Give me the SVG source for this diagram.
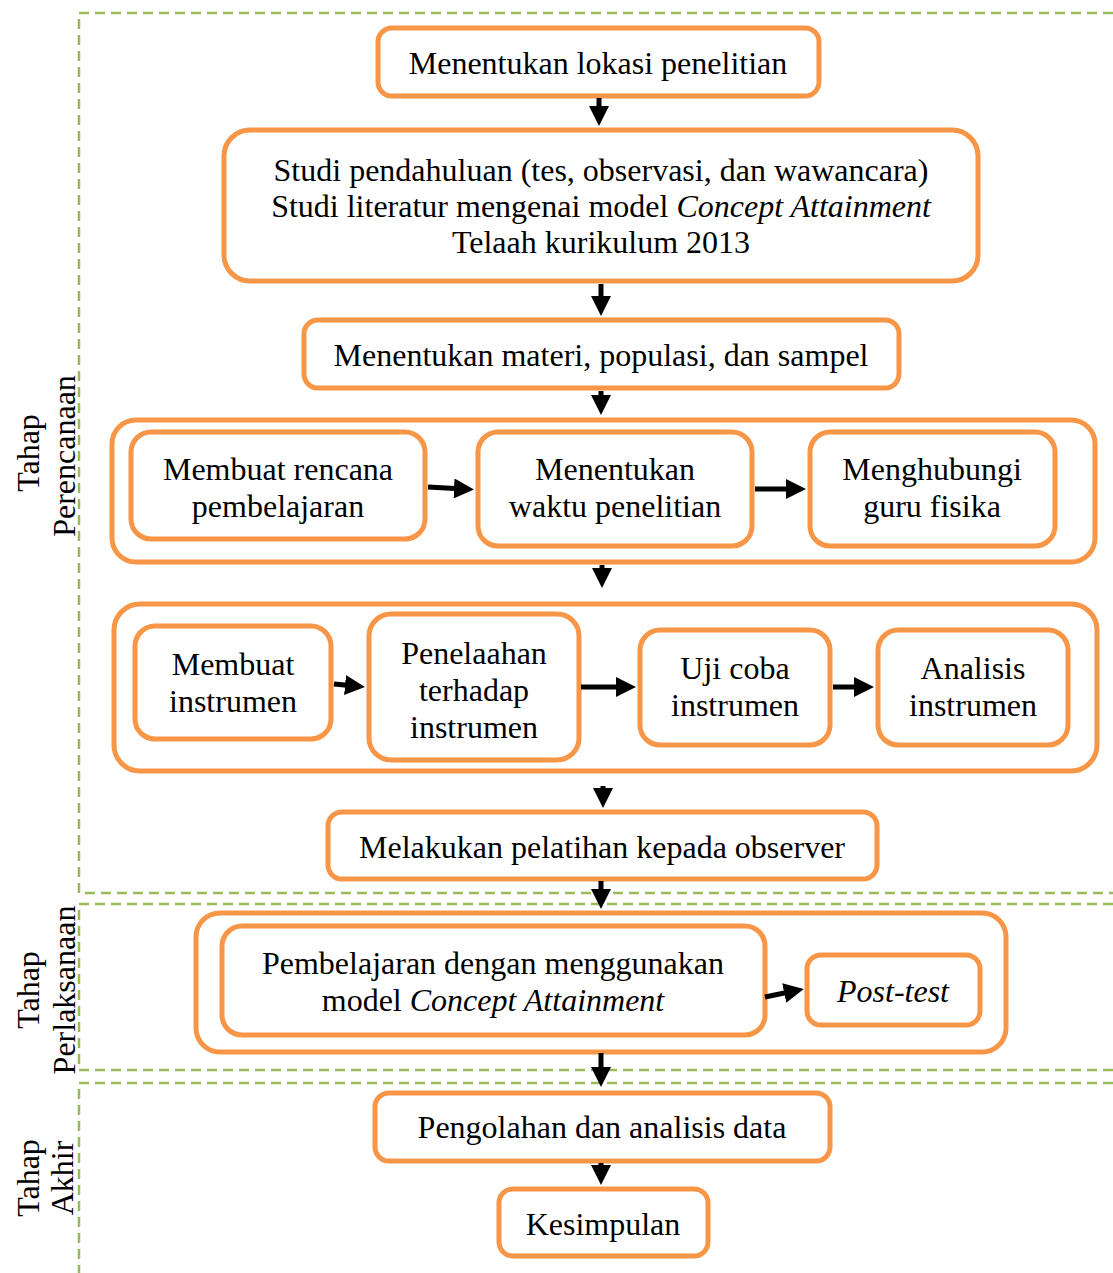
<svg xmlns="http://www.w3.org/2000/svg" width="1113" height="1273" viewBox="0 0 1113 1273">
<style>
.b{fill:#fff;stroke:#F79646;stroke-width:5}
.g{fill:none;stroke:#F79646;stroke-width:5}
.t{font-family:"Liberation Serif","Times New Roman",serif;font-size:32px;fill:#000;text-anchor:middle}
.d{fill:none;stroke:#9BBB59;stroke-width:2.5;stroke-dasharray:10 6}
.a{stroke:#000;stroke-width:5;fill:none;marker-end:url(#ah)}
</style>
<defs>
<marker id="ah" markerWidth="4" markerHeight="4" refX="2" refY="2" orient="auto" markerUnits="strokeWidth" viewBox="0 0 4 4">
<path d="M0,0 L4,2 L0,4 Z" fill="#000"/>
</marker>
</defs>
<g id="phases">
<path class="d" d="M1113,13 H79 V893 H1113"/>
<path class="d" d="M1113,904 H79 V1070 H1113"/>
<path class="d" d="M1113,1083 H79 V1273"/>
<text class="t" transform="translate(39,453) rotate(-90)">Tahap</text>
<text class="t" transform="translate(75,456) rotate(-90)">Perencanaan</text>
<text class="t" transform="translate(39,990) rotate(-90)">Tahap</text>
<text class="t" transform="translate(75,990) rotate(-90)">Perlaksanaan</text>
<text class="t" transform="translate(39,1178) rotate(-90)">Tahap</text>
<text class="t" transform="translate(73,1178) rotate(-90)">Akhir</text>
</g>
<g id="groups">
<rect id="grp1" class="g" x="112" y="420" width="983" height="142" rx="24"/>
<rect id="grp2" class="g" x="114" y="604" width="983" height="167" rx="26"/>
<rect id="grp3" class="g" x="196" y="913" width="810" height="139" rx="24"/>
</g>
<g id="n1"><rect class="b" x="378" y="28" width="441" height="68" rx="14"/><text class="t" x="598" y="74">Menentukan lokasi penelitian</text></g>
<g id="n2"><rect class="b" x="224" y="130" width="754" height="151" rx="26"/>
<text class="t" x="601" y="181">Studi pendahuluan (tes, observasi, dan wawancara)</text>
<text class="t" x="601" y="217">Studi literatur mengenai model <tspan font-style="italic">Concept Attainment</tspan></text>
<text class="t" x="601" y="253">Telaah kurikulum 2013</text></g>
<g id="n3"><rect class="b" x="304" y="320" width="595" height="68" rx="14"/><text class="t" x="601" y="366">Menentukan materi, populasi, dan sampel</text></g>
<g id="n4"><rect class="b" x="131" y="432" width="294" height="107" rx="20"/><text class="t" x="278" y="480">Membuat rencana</text><text class="t" x="278" y="517">pembelajaran</text></g>
<g id="n5"><rect class="b" x="478" y="432" width="274" height="114" rx="20"/><text class="t" x="615" y="480">Menentukan</text><text class="t" x="615" y="517">waktu penelitian</text></g>
<g id="n6"><rect class="b" x="810" y="432" width="245" height="114" rx="20"/><text class="t" x="932" y="480">Menghubungi</text><text class="t" x="932" y="517">guru fisika</text></g>
<g id="n7"><rect class="b" x="135" y="626" width="196" height="113" rx="20"/><text class="t" x="233" y="675">Membuat</text><text class="t" x="233" y="712">instrumen</text></g>
<g id="n8"><rect class="b" x="369" y="614" width="210" height="146" rx="22"/><text class="t" x="474" y="664">Penelaahan</text><text class="t" x="474" y="701">terhadap</text><text class="t" x="474" y="738">instrumen</text></g>
<g id="n9"><rect class="b" x="640" y="630" width="190" height="115" rx="20"/><text class="t" x="735" y="679">Uji coba</text><text class="t" x="735" y="716">instrumen</text></g>
<g id="n10"><rect class="b" x="878" y="630" width="190" height="115" rx="20"/><text class="t" x="973" y="679">Analisis</text><text class="t" x="973" y="716">instrumen</text></g>
<g id="n11"><rect class="b" x="328" y="812" width="549" height="67" rx="14"/><text class="t" x="602" y="858">Melakukan pelatihan kepada observer</text></g>
<g id="n12"><rect class="b" x="222" y="926" width="543" height="109" rx="20"/><text class="t" x="493" y="974">Pembelajaran dengan menggunakan</text><text class="t" x="493" y="1011">model <tspan font-style="italic">Concept Attainment</tspan></text></g>
<g id="n13"><rect class="b" x="807" y="955" width="173" height="70" rx="14"/><text class="t" x="893" y="1002" font-style="italic">Post-test</text></g>
<g id="n14"><rect class="b" x="375" y="1093" width="455" height="68" rx="14"/><text class="t" x="602" y="1138">Pengolahan dan analisis data</text></g>
<g id="n15"><rect class="b" x="499" y="1189" width="209" height="67" rx="14"/><text class="t" x="603" y="1235">Kesimpulan</text></g>
<g id="connectors">
<line class="a" x1="599" y1="98" x2="599" y2="116"/>
<line class="a" x1="601" y1="284" x2="601" y2="306"/>
<line class="a" x1="601" y1="391" x2="601" y2="405"/>
<line class="a" x1="602" y1="565" x2="602" y2="578"/>
<line class="a" x1="603" y1="786" x2="603" y2="798"/>
<line class="a" x1="601" y1="881" x2="601" y2="899"/>
<line class="a" x1="601" y1="1053" x2="601" y2="1077"/>
<line class="a" x1="601" y1="1163" x2="601" y2="1175"/>
<line class="a" x1="428" y1="487" x2="464" y2="489"/>
<line class="a" x1="755" y1="489" x2="796" y2="489"/>
<line class="a" x1="334" y1="684" x2="355" y2="686"/>
<line class="a" x1="581" y1="687" x2="626" y2="687"/>
<line class="a" x1="833" y1="687" x2="864" y2="687"/>
<line class="a" x1="765" y1="997" x2="794" y2="991"/>
</g>
</svg>
